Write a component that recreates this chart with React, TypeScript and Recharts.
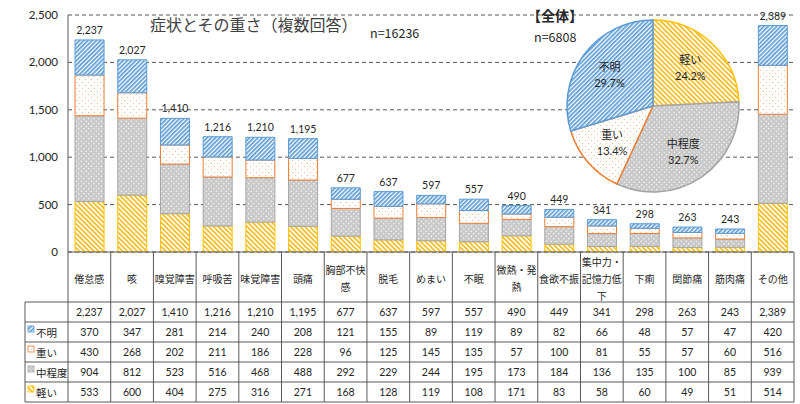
import React from 'react';
import { BarChart, Bar, XAxis, YAxis, CartesianGrid, LabelList, PieChart, Pie, Cell } from 'recharts';

const categories = ['倦怠感', '咳', '嗅覚障害', '呼吸苦', '味覚障害', '頭痛', '胸部不快感', '脱毛', 'めまい', '不眠', '微熱・発熱', '食欲不振', '集中力・記憶力低下', '下痢', '関節痛', '筋肉痛', 'その他'];
const totals = [2237, 2027, 1410, 1216, 1210, 1195, 677, 637, 597, 557, 490, 449, 341, 298, 263, 243, 2389];
const unknown = [370, 347, 281, 214, 240, 208, 121, 155, 89, 119, 89, 82, 66, 48, 57, 47, 420];
const severe = [430, 268, 202, 211, 186, 228, 96, 125, 145, 135, 57, 100, 81, 55, 57, 60, 516];
const moderate = [904, 812, 523, 516, 468, 488, 292, 229, 244, 195, 173, 184, 136, 135, 100, 85, 939];
const mild = [533, 600, 404, 275, 316, 271, 168, 128, 119, 108, 171, 83, 58, 60, 49, 51, 514];
const yTicks = [0, 500, 1000, 1500, 2000, 2500];

const pieNames = ['軽い', '中程度', '重い', '不明'];
const piePercents = [24.2, 32.7, 13.4, 29.7];

const seriesNames = { unknown: '不明', severe: '重い', moderate: '中程度', mild: '軽い' };

const data = categories.map((c, i) => ({
  name: c,
  total: totals[i],
  unknown: unknown[i],
  severe: severe[i],
  moderate: moderate[i],
  mild: mild[i],
}));
const pieData = pieNames.map((n, i) => ({ name: n, value: piePercents[i] }));

const W = 800;
const H = 404;
const M = { top: 15, right: 6, left: 8, bottom: 0 };
const YW = 60;
const XH = 152;
const AXIS_Y = H - M.bottom - XH;
const PLOT_W = W - M.left - M.right - YW;
const BW = PLOT_W / categories.length;
const ROW0 = 302;
const ROW_H = 20;
const LEG_X = 25;

const LINE = '#595959';
const TXT = '#262626';
const NUM_FONT = 'Lato, "Noto Sans", sans-serif';
const JP_FONT = '"Noto Sans CJK JP", sans-serif';

const fillOf = { mild: 'url(#pMild)', moderate: 'url(#pMod)', severe: 'url(#pSev)', unknown: 'url(#pUnk)' };
const strokeOf = { mild: '#FFC000', moderate: '#A5A5A5', severe: '#ED7D31', unknown: '#5B9BD5' };
const pieKeys = ['mild', 'moderate', 'severe', 'unknown'];

const fmt = (v: number) => v.toLocaleString('en-US');

function chunk(s: string, n: number) {
  const chars = Array.from(s);
  const out: string[] = [];
  for (let i = 0; i < chars.length; i += n) out.push(chars.slice(i, i + n).join(''));
  return out;
}

const rowKeys = ['total', 'unknown', 'severe', 'moderate', 'mild'];

function TableTick(props: any) {
  const { x, payload } = props;
  const i = categories.indexOf(payload.value);
  if (i < 0) return null;
  const left = x - BW / 2;
  const right = x + BW / 2;
  const lines = chunk(categories[i], 4);
  const lh = 17;
  const cy = (AXIS_Y + ROW0) / 2 + 1;
  const startY = cy - ((lines.length - 1) * lh) / 2;
  const bottom = ROW0 + ROW_H * 5;
  return (
    <g>
      {i === 0 && <line x1={left} x2={left} y1={AXIS_Y} y2={bottom} stroke={LINE} strokeWidth={1} />}
      <line x1={right} x2={right} y1={AXIS_Y} y2={bottom} stroke={LINE} strokeWidth={1} />
      {[0, 1, 2, 3, 4, 5].map((r) => (
        <line key={r} x1={left} x2={right} y1={ROW0 + r * ROW_H} y2={ROW0 + r * ROW_H} stroke={LINE} strokeWidth={1} />
      ))}
      {lines.map((ln, k) => (
        <text key={k} x={x} y={startY + k * lh} textAnchor="middle" dominantBaseline="central" fontSize={10} fontFamily={JP_FONT} fill={TXT}>
          {ln}
        </text>
      ))}
      {rowKeys.map((k, r) => (
        <text key={k} x={x} y={ROW0 + r * ROW_H + ROW_H / 2} textAnchor="middle" dominantBaseline="central" fontSize={10.5} fontFamily={NUM_FONT} fill={TXT}>
          {fmt((data[i] as any)[k])}
        </text>
      ))}
    </g>
  );
}

function PieLabel(props: any) {
  const { cx, cy, midAngle, outerRadius, index } = props;
  const RAD = Math.PI / 180;
  const r = outerRadius * 0.63;
  const x = cx + r * Math.cos(-midAngle * RAD);
  const y = cy + r * Math.sin(-midAngle * RAD);
  return (
    <text x={x} y={y} textAnchor="middle" fontFamily={JP_FONT} fontSize={11} fill={TXT}>
      <tspan x={x} dy={-3}>{pieNames[index]}</tspan>
      <tspan x={x} dy={16} fontFamily={NUM_FONT} fontSize={11}>{piePercents[index].toFixed(1)}%</tspan>
    </text>
  );
}

function Defs() {
  return (
    <svg width={0} height={0} style={{ position: 'absolute' }}>
      <defs>
        <pattern id="pMild" patternUnits="userSpaceOnUse" width={3.4} height={3.4} patternTransform="rotate(-45)">
          <rect width={3.4} height={3.4} fill="#ffffff" />
          <rect width={1.8} height={3.4} fill="#F5BF2C" />
        </pattern>
        <pattern id="pUnk" patternUnits="userSpaceOnUse" width={3} height={3} patternTransform="rotate(45)">
          <rect width={3} height={3} fill="#ffffff" />
          <rect width={1.7} height={3} fill="#5B9BD5" />
        </pattern>
        <pattern id="pMod" patternUnits="userSpaceOnUse" width={5} height={5}>
          <rect width={5} height={5} fill="#C9C9C9" />
          <circle cx={1.25} cy={1.25} r={0.65} fill="#ffffff" />
          <circle cx={3.75} cy={3.75} r={0.65} fill="#ffffff" />
        </pattern>
        <pattern id="pSev" patternUnits="userSpaceOnUse" width={6} height={6}>
          <rect width={6} height={6} fill="#ffffff" />
          <circle cx={1.5} cy={1.5} r={0.6} fill="#F4B183" />
          <circle cx={4.5} cy={4.5} r={0.6} fill="#F4B183" />
        </pattern>
      </defs>
    </svg>
  );
}

const legendRows = ['unknown', 'severe', 'moderate', 'mild'];

export default function App() {
  return (
    <div style={{ position: 'absolute', left: 0, top: 0, width: W, height: H, background: '#fff', overflow: 'hidden' }}>
      <Defs />
      <BarChart width={W} height={H} data={data} margin={M} barCategoryGap="16.5%">
        <CartesianGrid vertical={false} stroke={LINE} strokeDasharray="4 3" />
        <YAxis
          width={YW}
          domain={[0, 2500]}
          ticks={yTicks}
          tickFormatter={fmt}
          axisLine={{ stroke: LINE }}
          tickLine={false}
          tickMargin={4}
          tick={{ fontSize: 11.5, fill: TXT, fontFamily: NUM_FONT }}
          allowDataOverflow
        />
        <XAxis
          dataKey="name"
          height={XH}
          interval={0}
          axisLine={{ stroke: LINE }}
          tickLine={false}
          tickSize={0}
          tick={<TableTick />}
        />
        <Bar dataKey="mild" stackId="a" fill={fillOf.mild} stroke={strokeOf.mild} strokeWidth={1} isAnimationActive={false} />
        <Bar dataKey="moderate" stackId="a" fill={fillOf.moderate} stroke={strokeOf.moderate} strokeWidth={1} isAnimationActive={false} />
        <Bar dataKey="severe" stackId="a" fill={fillOf.severe} stroke={strokeOf.severe} strokeWidth={1} isAnimationActive={false} />
        <Bar dataKey="unknown" stackId="a" fill={fillOf.unknown} stroke={strokeOf.unknown} strokeWidth={1} isAnimationActive={false}>
          <LabelList dataKey="total" position="top" offset={6} formatter={(v: any) => fmt(Number(v))} style={{ fontSize: 10.5, fill: TXT, fontFamily: NUM_FONT }} />
        </Bar>
      </BarChart>

      <svg width={W} height={H} style={{ position: 'absolute', left: 0, top: 0, pointerEvents: 'none' }}>
        <text x={150} y={31} fontSize={16} fontFamily={JP_FONT} fill="#404040">症状とその重さ（複数回答）</text>
        <text x={370} y={38} fontSize={12.5} fontFamily={JP_FONT} fill={TXT}>n=16236</text>
        <text x={527} y={21} fontSize={14} fontWeight="bold" fontFamily={JP_FONT} fill={TXT}>【全体】</text>
        <text x={534} y={42} fontSize={12.5} fontFamily={JP_FONT} fill={TXT}>n=6808</text>
        <line x1={LEG_X} x2={LEG_X} y1={ROW0} y2={ROW0 + ROW_H * 5} stroke={LINE} strokeWidth={1} />
        {[0, 1, 2, 3, 4, 5].map((r) => (
          <line key={r} x1={LEG_X} x2={M.left + YW} y1={ROW0 + r * ROW_H} y2={ROW0 + r * ROW_H} stroke={LINE} strokeWidth={1} />
        ))}
        {legendRows.map((k, r) => {
          const cy = ROW0 + (r + 1) * ROW_H + ROW_H / 2;
          return (
            <g key={k}>
              <rect x={28} y={cy - 6} width={6} height={6} fill={(fillOf as any)[k]} stroke={(strokeOf as any)[k]} strokeWidth={0.8} />
              <text x={36} y={cy} dominantBaseline="central" fontSize={10.5} fontFamily={JP_FONT} fill={TXT}>{(seriesNames as any)[k]}</text>
            </g>
          );
        })}
      </svg>

      <div style={{ position: 'absolute', left: 563, top: 16 }}>
        <PieChart width={180} height={180} margin={{ top: 0, right: 0, bottom: 0, left: 0 }}>
          <Pie
            data={pieData}
            dataKey="value"
            cx={90}
            cy={90}
            outerRadius={86}
            startAngle={90}
            endAngle={-270}
            isAnimationActive={false}
            label={<PieLabel />}
            labelLine={false}
          >
            {pieData.map((d, i) => (
              <Cell key={d.name} fill={(fillOf as any)[pieKeys[i]]} stroke={(strokeOf as any)[pieKeys[i]]} strokeWidth={1.5} />
            ))}
          </Pie>
        </PieChart>
      </div>
    </div>
  );
}
